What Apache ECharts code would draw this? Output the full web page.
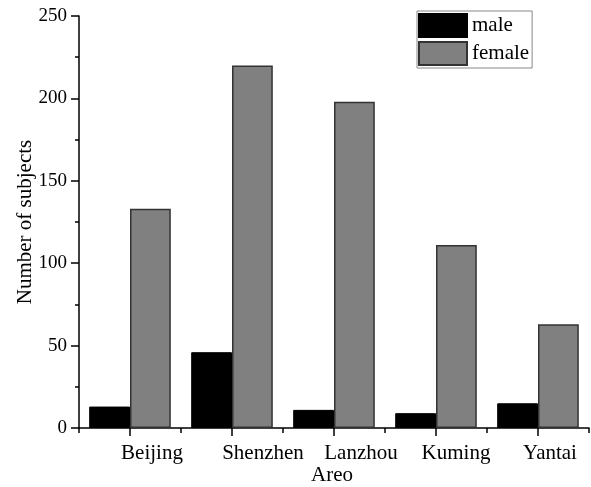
<!DOCTYPE html>
<html>
<head>
<meta charset="utf-8">
<script src="https://cdn.jsdelivr.net/npm/echarts@6/dist/echarts.min.js"></script>
<style>
  html, body { margin: 0; padding: 0; background: #fff; }
  #chart { width: 591px; height: 487px; }
</style>
</head>
<body>
<div id="chart"></div>
<script>
// Subjects per area, split by sex
const categories = ['Beijing', 'Shenzhen', 'Lanzhou', 'Kuming', 'Yantai'];
const maleCounts = [13, 46, 11, 9, 15];
const femaleCounts = [133, 220, 198, 111, 63];
const seriesNames = ['male', 'female'];

const FONT = '"Liberation Serif", "Times New Roman", serif';

// Per-category label nudges (px of left padding) so labels sit right of their ticks
const labelPad = [44, 62, 54, 40, 24];
const rich = {};
labelPad.forEach((p, i) => {
  rich['c' + i] = { fontFamily: FONT, fontSize: 21, color: '#000', padding: [0, 0, 0, p] };
});

const chart = echarts.init(document.getElementById('chart'), null, { renderer: 'canvas' });

chart.setOption({
  animation: false,
  backgroundColor: '#fff',
  textStyle: { fontFamily: FONT },
  grid: { left: 79, right: 2, top: 16, bottom: 59, containLabel: false, outerBoundsMode: 'none' },
  legend: {
    data: seriesNames,
    orient: 'vertical',
    left: 417,
    top: 11,
    itemWidth: 48,
    itemHeight: 23,
    itemGap: 3,
    padding: [2, 3, 2, 1],
    borderColor: '#888',
    borderWidth: 1,
    icon: 'rect',
    textStyle: { fontFamily: FONT, fontSize: 21, color: '#000', padding: [0, 0, 0, 0] }
  },
  xAxis: [
    {
      type: 'category',
      data: categories,
      name: 'Areo',
      nameLocation: 'middle',
      nameGap: 37,
      nameMoveOverlap: false,
      nameTextStyle: { fontFamily: FONT, fontSize: 21, color: '#000', padding: [0, 4, 0, 0] },
      axisLine: { show: true, lineStyle: { color: '#000', width: 1.5 } },
      axisTick: { show: true, alignWithLabel: true, length: 8, lineStyle: { color: '#000', width: 1.5 } },
      axisLabel: {
        margin: 15,
        formatter: (v, i) => '{c' + i + '|' + v + '}',
        rich: rich
      },
      splitLine: { show: false }
    },
    {
      // boundary ticks between the categories
      type: 'category',
      data: categories,
      position: 'bottom',
      axisLine: { show: false },
      axisTick: { show: true, alignWithLabel: false, length: 5, lineStyle: { color: '#000', width: 1.5 } },
      axisLabel: { show: false },
      splitLine: { show: false }
    }
  ],
  yAxis: {
    type: 'value',
    min: 0,
    max: 250,
    interval: 50,
    name: 'Number of subjects',
    nameLocation: 'middle',
    nameGap: 43,
    nameMoveOverlap: false,
    nameTextStyle: { fontFamily: FONT, fontSize: 21, color: '#000' },
    axisLine: { show: true, lineStyle: { color: '#000', width: 1.5 } },
    axisTick: { show: true, length: 8, lineStyle: { color: '#000', width: 1.5 } },
    minorTick: { show: true, splitNumber: 2, length: 4, lineStyle: { color: '#000', width: 1.5 } },
    axisLabel: { margin: 12, fontFamily: FONT, fontSize: 19, color: '#000' },
    splitLine: { show: false }
  },
  series: [
    {
      name: seriesNames[0],
      type: 'bar',
      data: maleCounts,
      barGap: '0%',
      barCategoryGap: '20%',
      itemStyle: { color: '#000', borderColor: '#000', borderWidth: 1 }
    },
    {
      name: seriesNames[1],
      type: 'bar',
      data: femaleCounts,
      barGap: '0%',
      barCategoryGap: '20%',
      itemStyle: { color: '#808080', borderColor: '#333', borderWidth: 1.5 }
    }
  ]
});
</script>
</body>
</html>
